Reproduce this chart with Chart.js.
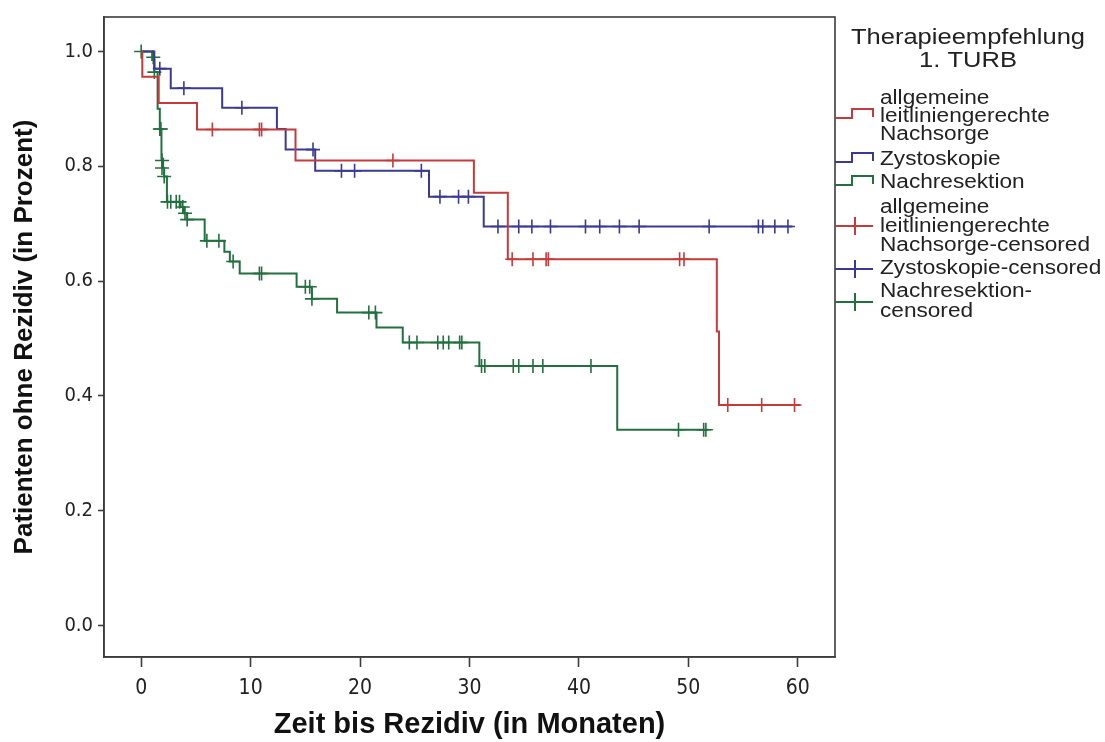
<!DOCTYPE html>
<html>
<head>
<meta charset="utf-8">
<script src="https://cdn.jsdelivr.net/npm/chart.js@4.4.1/dist/chart.umd.min.js"></script>
<style>
  html, body { margin: 0; padding: 0; background: #fff; }
  #wrap { width: 1105px; height: 742px; position: relative; }
</style>
</head>
<body>
<div id="wrap"><canvas id="km-chart"></canvas></div>
<script>
// Achsen
const xTicks = [0, 10, 20, 30, 40, 50, 60];
const yTicks = [0.0, 0.2, 0.4, 0.6, 0.8, 1.0];

// allgemeine leitliniengerechte Nachsorge (rot)
const nachsorgeT = [0, 0.1, 1.6, 5.1, 14.1, 30.4, 33.5, 52.6, 52.8, 60.2];
const nachsorgeS = [1.0, 0.956, 0.910, 0.864, 0.810, 0.754, 0.638, 0.512, 0.384, 0.384];
const nachsorgeCensT = [6.5, 10.8, 11.0, 23.0, 33.9, 35.8, 37.0, 37.2, 49.2, 49.6, 53.6, 56.7, 59.7];
const nachsorgeCensS = [0.864, 0.864, 0.864, 0.810, 0.638, 0.638, 0.638, 0.638, 0.638, 0.638, 0.384, 0.384, 0.384];

// Zystoskopie (blau)
const zystoT = [0, 1.2, 2.7, 7.4, 12.4, 13.2, 15.9, 26.3, 31.3, 59.5];
const zystoS = [1.0, 0.970, 0.936, 0.902, 0.865, 0.829, 0.792, 0.747, 0.695, 0.695];
const zystoCensT = [1.7, 3.9, 9.2, 15.7, 18.3, 19.5, 25.6, 27.3, 29.0, 29.9, 32.6, 34.5, 35.7, 37.4, 40.6, 41.9, 43.7, 45.5, 51.9, 56.4, 56.8, 57.9, 59.1];
const zystoCensS = [0.970, 0.936, 0.902, 0.829, 0.792, 0.792, 0.792, 0.747, 0.747, 0.747, 0.695, 0.695, 0.695, 0.695, 0.695, 0.695, 0.695, 0.695, 0.695, 0.695, 0.695, 0.695, 0.695];

// Nachresektion (grün)
const nachresT = [0, 1.0, 1.2, 1.5, 1.7, 1.85, 2.0, 2.1, 2.35, 3.6, 3.9, 4.2, 5.8, 7.6, 8.1, 9.0, 14.2, 15.6, 17.9, 21.5, 23.9, 30.9, 43.5, 51.8];
const nachresS = [1.0, 0.985, 0.964, 0.900, 0.865, 0.813, 0.797, 0.782, 0.738, 0.729, 0.718, 0.707, 0.670, 0.651, 0.634, 0.613, 0.590, 0.569, 0.545, 0.519, 0.493, 0.452, 0.341, 0.341];
const nachresCensT = [0, 1.1, 1.2, 1.7, 1.8, 1.9, 1.9, 2.1, 2.4, 2.7, 3.2, 3.5, 3.8, 4.0, 4.2, 6.0, 7.1, 8.4, 10.8, 11.0, 15.0, 15.4, 15.6, 20.8, 21.4, 24.5, 25.2, 27.1, 27.6, 28.1, 29.1, 29.3, 31.1, 31.4, 34.0, 34.5, 35.8, 36.7, 41.1, 49.1, 51.4, 51.6];
const nachresCensS = [1.0, 0.990, 0.964, 0.865, 0.865, 0.810, 0.797, 0.782, 0.738, 0.738, 0.738, 0.738, 0.729, 0.718, 0.707, 0.670, 0.670, 0.634, 0.613, 0.613, 0.590, 0.590, 0.569, 0.545, 0.545, 0.493, 0.493, 0.493, 0.493, 0.493, 0.493, 0.493, 0.452, 0.452, 0.452, 0.452, 0.452, 0.452, 0.452, 0.341, 0.341, 0.341];

const RED = "#c53a3a";
const BLUE = "#3a3a94";
const GREEN = "#22703f";
const AXIS = "#3c3c3c";

const narrowFont = "'Liberation Sans Narrow', 'DejaVu Sans Condensed', 'Liberation Sans', Arial, sans-serif";
const sansFont = "'Liberation Sans', Arial, sans-serif";

function toPoints(ts, ss) {
  return ts.map((t, i) => ({ x: t, y: ss[i] }));
}

function stepSet(label, ts, ss, color) {
  return {
    type: "line", label, data: toPoints(ts, ss),
    borderColor: color, borderWidth: 2, stepped: true,
    pointRadius: 0, fill: false
  };
}

function censSet(label, ts, ss, color) {
  return {
    type: "scatter", label, data: toPoints(ts, ss),
    borderColor: color, backgroundColor: color, borderWidth: 1.6,
    pointStyle: "cross", pointRadius: 7, showLine: false
  };
}

// Rahmen um die Plotfläche
const framePlugin = {
  id: "frame",
  afterDraw(chart) {
    const { ctx, chartArea: a } = chart;
    ctx.save();
    ctx.strokeStyle = AXIS;
    ctx.lineWidth = 1.6;
    ctx.strokeRect(a.left, a.top, a.right - a.left, a.bottom - a.top);
    ctx.restore();
  }
};

// gedehnter Text (Original ist horizontal gestreckt)
function wideText(ctx, text, x, y, align) {
  const sx = 1.16;
  ctx.save();
  ctx.translate(x, y);
  ctx.scale(sx, 1);
  ctx.textAlign = align || "left";
  ctx.textBaseline = "middle";
  ctx.fillText(text, 0, 0);
  ctx.restore();
}

// Legende rechts
const legendPlugin = {
  id: "kmLegend",
  afterDraw(chart) {
    const { ctx } = chart;
    const x0 = 835, tx = 880;
    ctx.save();
    ctx.fillStyle = "#222";
    ctx.font = "22px " + sansFont;
    wideText(ctx, "Therapieempfehlung", 968, 38, "center");
    wideText(ctx, "1. TURB", 968, 61, "center");

    ctx.font = "19.5px " + sansFont;
    const steps = [
      { color: RED, y: 114, lines: ["allgemeine", "leitliniengerechte", "Nachsorge"], ly: [99, 117, 135] },
      { color: BLUE, y: 158, lines: ["Zystoskopie"], ly: [160] },
      { color: GREEN, y: 181, lines: ["Nachresektion"], ly: [183] }
    ];
    steps.forEach(s => {
      ctx.strokeStyle = s.color;
      ctx.lineWidth = 2;
      ctx.beginPath();
      ctx.moveTo(x0, s.y + 4);
      ctx.lineTo(852, s.y + 4);
      ctx.lineTo(852, s.y - 5);
      ctx.lineTo(873, s.y - 5);
      ctx.lineTo(873, s.y + 3);
      ctx.stroke();
      s.lines.forEach((t, i) => wideText(ctx, t, tx, s.ly[i]));
    });

    const cens = [
      { color: RED, y: 226, lines: ["allgemeine", "leitliniengerechte", "Nachsorge-censored"], ly: [208, 227, 246] },
      { color: BLUE, y: 269, lines: ["Zystoskopie-censored"], ly: [269] },
      { color: GREEN, y: 302, lines: ["Nachresektion-", "censored"], ly: [292, 312] }
    ];
    cens.forEach(s => {
      ctx.strokeStyle = s.color;
      ctx.lineWidth = 2;
      ctx.beginPath();
      ctx.moveTo(x0, s.y);
      ctx.lineTo(873, s.y);
      ctx.moveTo(855, s.y - 9);
      ctx.lineTo(855, s.y + 9);
      ctx.stroke();
      s.lines.forEach((t, i) => wideText(ctx, t, tx, s.ly[i]));
    });
    ctx.restore();
  }
};

const chart = new Chart(document.getElementById("km-chart"), {
  data: {
    datasets: [
      stepSet("allgemeine leitliniengerechte Nachsorge", nachsorgeT, nachsorgeS, RED),
      stepSet("Zystoskopie", zystoT, zystoS, BLUE),
      stepSet("Nachresektion", nachresT, nachresS, GREEN),
      censSet("allgemeine leitliniengerechte Nachsorge-censored", nachsorgeCensT, nachsorgeCensS, RED),
      censSet("Zystoskopie-censored", zystoCensT, zystoCensS, BLUE),
      censSet("Nachresektion-censored", nachresCensT, nachresCensS, GREEN)
    ]
  },
  options: {
    responsive: true,
    maintainAspectRatio: false,
    animation: false,
    layout: { padding: { top: 10, right: 270, left: 0, bottom: 0 } },
    plugins: {
      legend: { display: false },
      tooltip: { enabled: false }
    },
    scales: {
      x: {
        type: "linear",
        min: -3.4,
        max: 63.4,
        afterFit(scale) { scale.height = 85; },
        afterBuildTicks(scale) { scale.ticks = xTicks.map(v => ({ value: v })); },
        grid: { drawOnChartArea: false, tickLength: 10, tickColor: AXIS, tickWidth: 1.6 },
        border: { display: true, color: AXIS, width: 1.6 },
        ticks: { color: "#222", font: { family: narrowFont, size: 21 }, padding: 9, maxRotation: 0 },
        title: {
          display: true, text: "Zeit bis Rezidiv (in Monaten)", color: "#111",
          font: { family: sansFont, size: 29, weight: "bold" }, padding: { top: 0, bottom: 0 }
        }
      },
      y: {
        type: "linear",
        min: -0.055,
        max: 1.06,
        afterFit(scale) { scale.width = 104; },
        afterBuildTicks(scale) { scale.ticks = yTicks.map(v => ({ value: v })); },
        grid: { drawOnChartArea: false, tickLength: 6, tickColor: AXIS, tickWidth: 1.6 },
        border: { display: true, color: AXIS, width: 1.6 },
        ticks: {
          color: "#222", font: { family: narrowFont, size: 20 }, padding: 5,
          callback: v => v.toFixed(1)
        },
        title: {
          display: true, text: "Patienten ohne Rezidiv (in Prozent)", color: "#111",
          font: { family: sansFont, size: 26, weight: "bold" }, padding: { top: 9, bottom: 0 }
        }
      }
    }
  },
  plugins: [framePlugin, legendPlugin]
});
</script>
</body>
</html>
